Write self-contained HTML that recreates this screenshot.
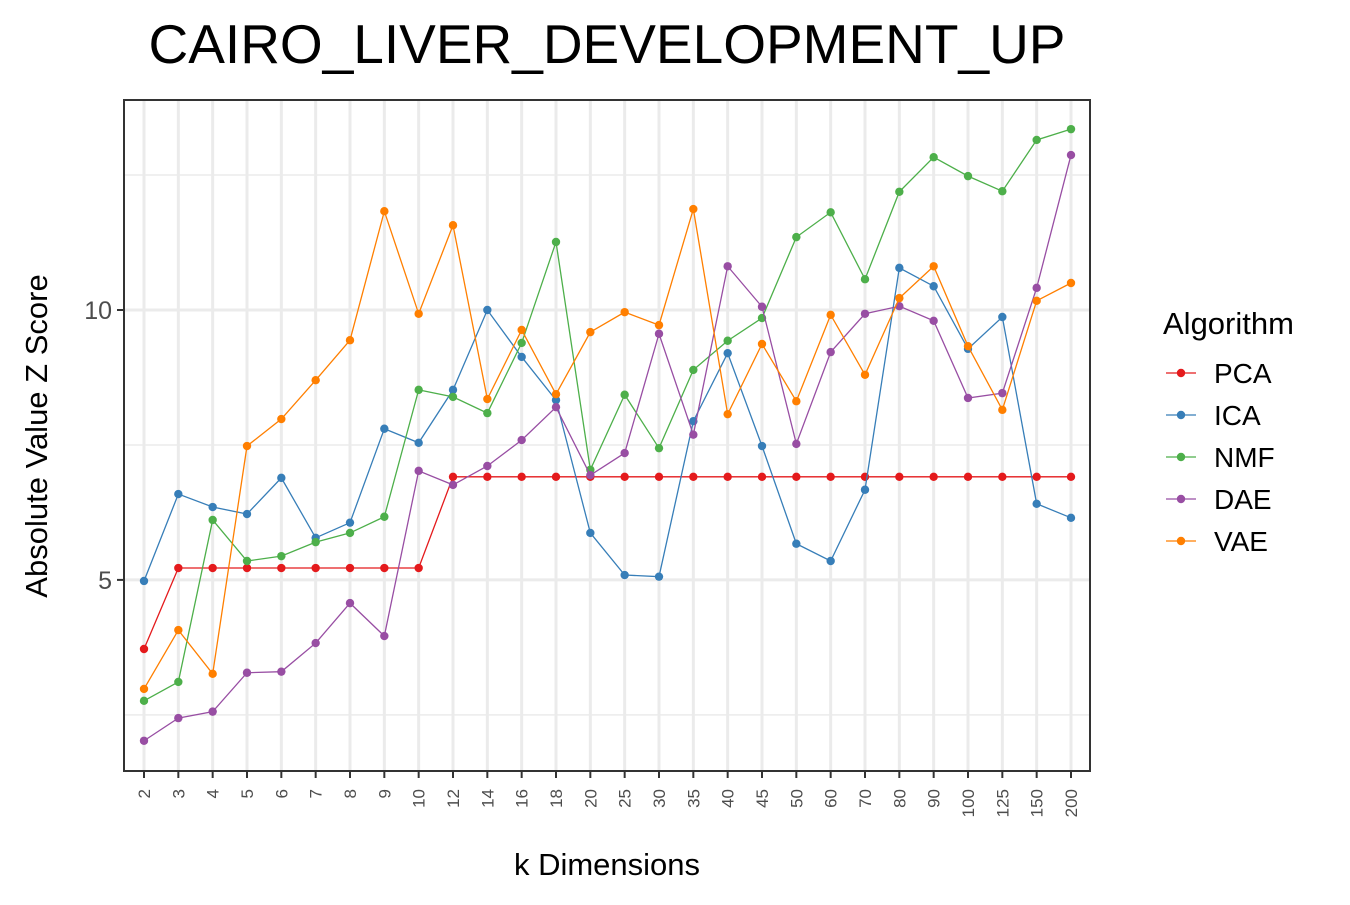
<!DOCTYPE html>
<html><head><meta charset="utf-8"><style>
body{margin:0;background:#fff;}
text{font-family:"Liberation Sans",Arial,sans-serif;}
</style></head><body>
<svg id="chart" width="1350" height="900" xmlns="http://www.w3.org/2000/svg">
<text x="607" y="63" font-size="55" text-anchor="middle" fill="#000">CAIRO_LIVER_DEVELOPMENT_UP</text>
<g id="grid"></g>
<g id="series"></g>
<rect x="124" y="100" width="966" height="671" fill="none" stroke="#333" stroke-width="2"/>
<g id="axes"></g>
<text x="607" y="875" font-size="31" text-anchor="middle">k Dimensions</text>
<text transform="translate(47,436) rotate(-90)" font-size="31" text-anchor="middle">Absolute Value Z Score</text>
<g id="legend">
<text x="1163" y="334" font-size="31">Algorithm</text>
</g>
</svg>
<script>
const categories=["2","3","4","5","6","7","8","9","10","12","14","16","18","20","25","30","35","40","45","50","60","70","80","90","100","125","150","200"];
const seriesNames=["PCA","ICA","NMF","DAE","VAE"];
const seriesColors=["#E41A1C","#377EB8","#4DAF4A","#984EA3","#FF7F00"];
const pca=[3.72,5.22,5.22,5.22,5.22,5.22,5.22,5.22,5.22,6.91,6.91,6.91,6.91,6.91,6.91,6.91,6.91,6.91,6.91,6.91,6.91,6.91,6.91,6.91,6.91,6.91,6.91,6.91];
const ica=[4.98,6.59,6.35,6.22,6.89,5.78,6.06,7.80,7.54,8.52,10.0,9.13,8.33,5.87,5.09,5.06,7.94,9.20,7.48,5.67,5.35,6.67,10.78,10.44,9.28,9.87,6.41,6.15];
const nmf=[2.76,3.11,6.11,5.35,5.44,5.70,5.87,6.17,8.52,8.39,8.09,9.39,11.26,7.04,8.43,7.44,8.89,9.43,9.85,11.35,11.81,10.57,12.19,12.83,12.48,12.20,13.15,13.35];
const dae=[2.02,2.44,2.56,3.28,3.30,3.83,4.57,3.96,7.02,6.76,7.11,7.59,8.20,6.94,7.35,9.56,7.69,10.81,10.06,7.52,9.22,9.93,10.07,9.80,8.37,8.46,10.41,12.87];
const vae=[2.98,4.07,3.26,7.48,7.98,8.70,9.44,11.83,9.93,11.57,8.35,9.63,8.44,9.59,9.96,9.72,11.87,8.07,9.37,8.31,9.91,8.80,10.22,10.81,9.33,8.15,10.17,10.50];
const yTicks=[5,10];
const yMinor=[2.5,7.5,12.5];
const allSeries=[pca,ica,nmf,dae,vae];
const NS="http://www.w3.org/2000/svg";
const x0=144,x1=1071,yMin=1.46,yMax=13.89,pTop=100,pBot=771;
function xs(i){return x0+i*(x1-x0)/(categories.length-1);}
function ys(v){return pBot-(v-yMin)/(yMax-yMin)*(pBot-pTop);}
function mk(tag,attrs,parent){const e=document.createElementNS(NS,tag);for(const k in attrs)e.setAttribute(k,attrs[k]);parent.appendChild(e);return e;}
const grid=document.getElementById('grid'),axes=document.getElementById('axes'),ser=document.getElementById('series'),leg=document.getElementById('legend');
yMinor.forEach(v=>{const l=mk('line',{x1:124,x2:1090,y1:ys(v),y2:ys(v),stroke:'#ebebeb','stroke-width':1.5},grid);

});
categories.forEach((c,i)=>{const l=mk('line',{x1:xs(i),x2:xs(i),y1:pTop,y2:pBot,stroke:'#ebebeb','stroke-width':3},grid);


const t=mk('line',{x1:xs(i),x2:xs(i),y1:771,y2:778,stroke:'#333','stroke-width':2},axes);


const tx=mk('text',{transform:`translate(${xs(i)+6},789) rotate(-90)`,'font-size':17,fill:'#4d4d4d','text-anchor':'end'},axes);
tx.textContent=c;

});
yTicks.forEach(v=>{const l=mk('line',{x1:124,x2:1090,y1:ys(v),y2:ys(v),stroke:'#ebebeb','stroke-width':3},grid);


const t=mk('line',{x1:117,x2:124,y1:ys(v),y2:ys(v),stroke:'#333','stroke-width':2},axes);


const tx=mk('text',{x:112,y:ys(v)+9,'font-size':25,fill:'#4d4d4d','text-anchor':'end'},axes);
tx.textContent=v;

});
allSeries.forEach((d,s)=>{const g=mk('g',{},ser);


const p=mk('polyline',{points:d.map((v,i)=>xs(i)+','+ys(v)).join(' '),fill:'none',stroke:seriesColors[s],'stroke-width':1.3},g);


d.forEach((v,i)=>{const c=mk('circle',{cx:xs(i),cy:ys(v),r:4.2,fill:seriesColors[s]},g);

});
const ly=373+s*42;
const lg=mk('g',{},leg);


mk('line',{x1:1166,x2:1196,y1:ly,y2:ly,stroke:seriesColors[s],'stroke-width':1.3},lg);
mk('circle',{cx:1181,cy:ly,r:4.2,fill:seriesColors[s]},lg);
const t=mk('text',{x:1214,y:ly+10,'font-size':28},lg);t.textContent=seriesNames[s];});
</script>
</body></html>
